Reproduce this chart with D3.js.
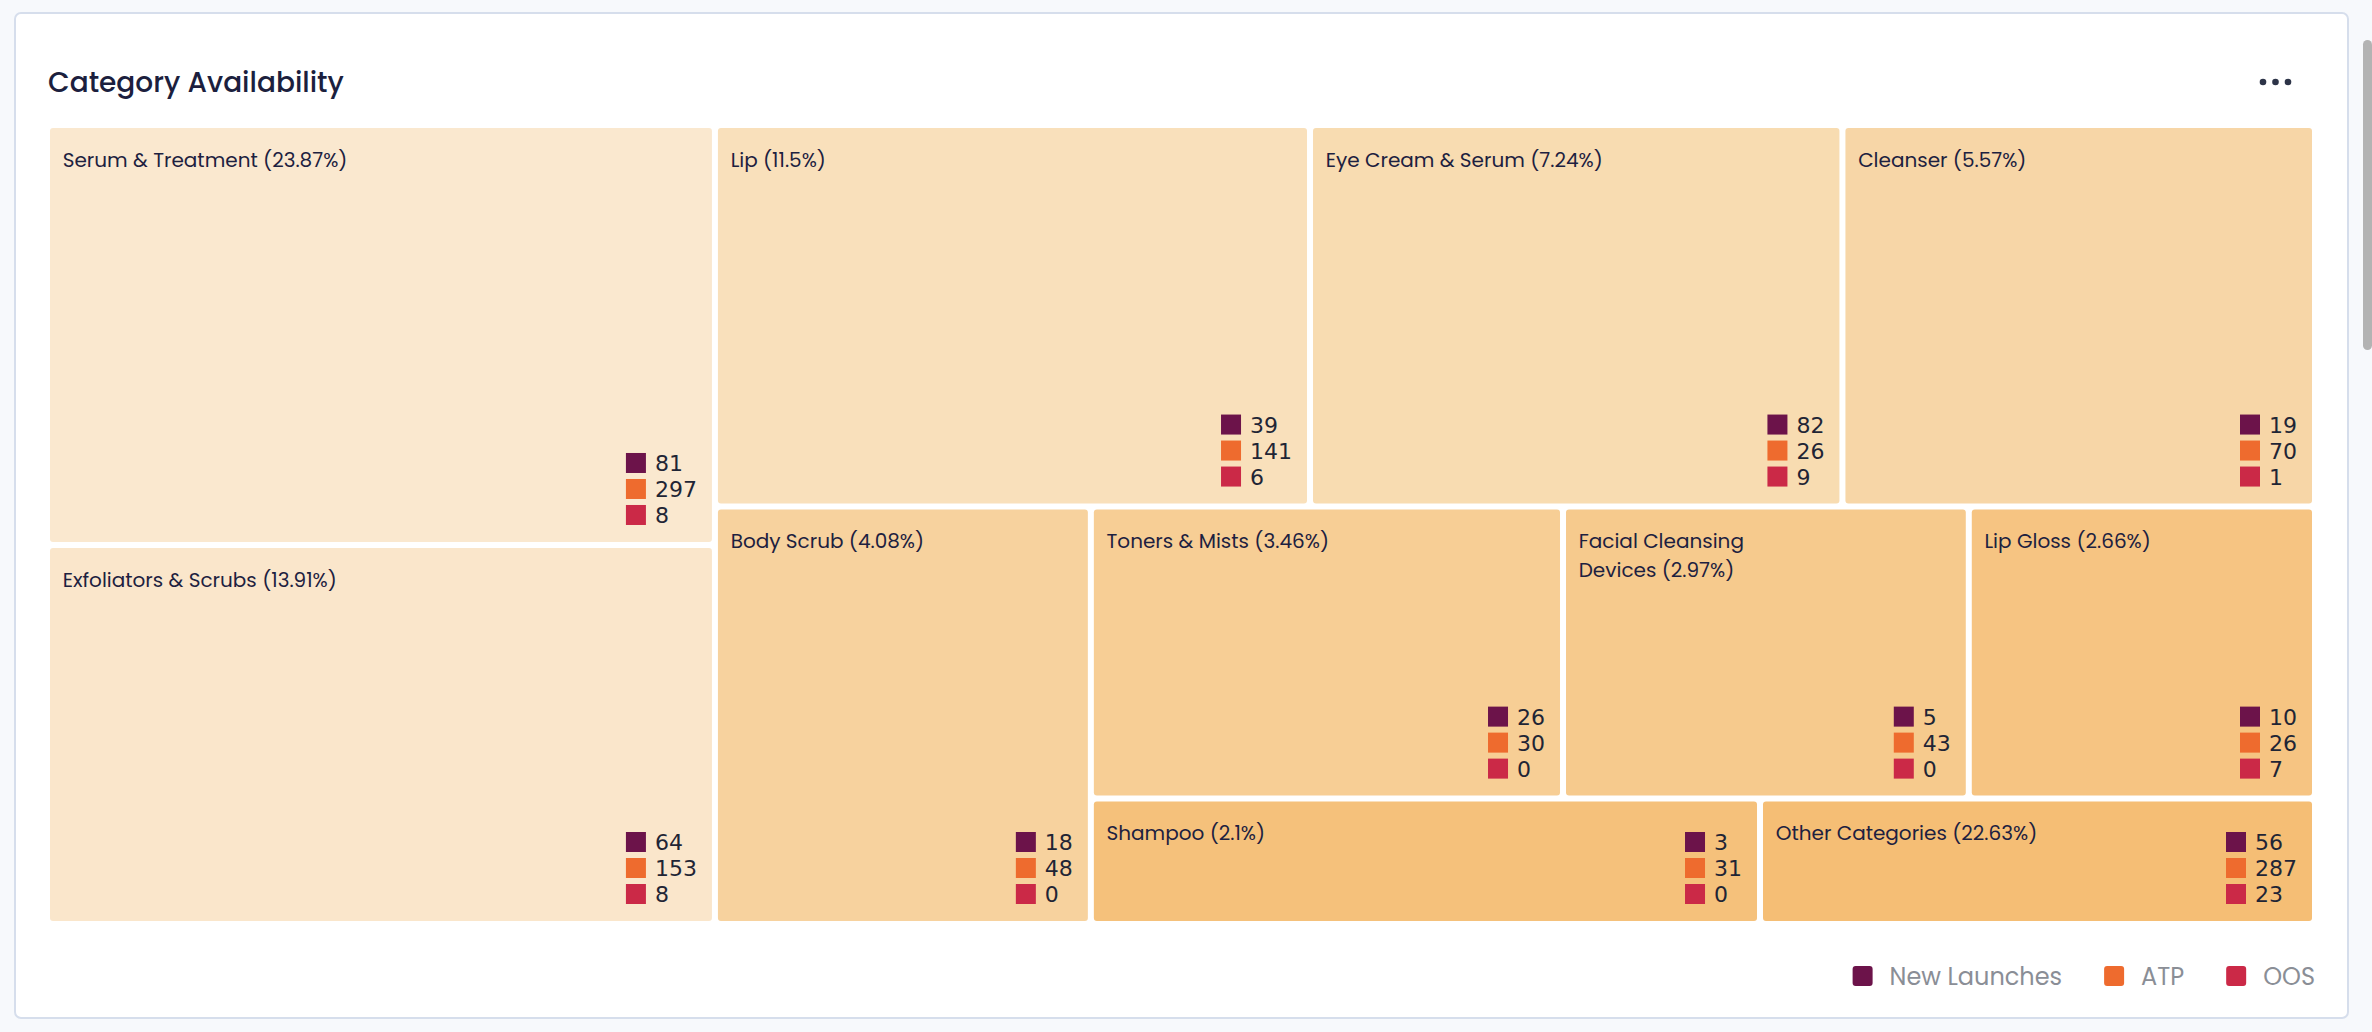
<!DOCTYPE html>
<html>
<head>
<meta charset="utf-8">
<script src="https://cdn.jsdelivr.net/npm/d3@7/dist/d3.min.js"></script>
<style>
  html, body { margin: 0; padding: 0; background: #f7f9fc; overflow: hidden; }
  svg { display: block; }
</style>
</head>
<body>
<svg id="chart" width="2372" height="1032"></svg>
<script>
// ---------- data ----------
const categories = ["Serum & Treatment", "Exfoliators & Scrubs", "Lip", "Eye Cream & Serum", "Cleanser",
  "Body Scrub", "Toners & Mists", "Facial Cleansing Devices", "Lip Gloss", "Shampoo", "Other Categories"];
const sharePct = [23.87, 13.91, 11.5, 7.24, 5.57, 4.08, 3.46, 2.97, 2.66, 2.1, 22.63];
const newLaunches = [81, 64, 39, 82, 19, 18, 26, 5, 10, 3, 56];
const atp = [297, 153, 141, 26, 70, 48, 30, 43, 26, 31, 287];
const oos = [8, 8, 6, 9, 1, 0, 0, 0, 7, 0, 23];
// relative tile areas
const tileWeight = [154.8, 139.7, 125.3, 112.1, 99.5, 86.6, 76.1, 65.4, 55.8, 46.3, 38.4];
const seriesNames = ["New Launches", "ATP", "OOS"];

// ---------- styles ----------
const seriesColors = ["#6c134a", "#ee6b2e", "#cb2947"];
const tileColors = ["#fae8cf", "#fae6cb", "#f9e0bb", "#f8dcb1", "#f7d6a7", "#f7d29e",
  "#f7ce95", "#f6ca8d", "#f6c482", "#f5c17b", "#f5be75"];
const labelFont = "Poppins, Inter, 'Open Sans', sans-serif";
const numFont = "'DejaVu Sans', sans-serif";

const svg = d3.select("#chart");

// card
svg.append("rect").attr("x", 15).attr("y", 13).attr("width", 2333).attr("height", 1005)
  .attr("rx", 6).attr("fill", "#ffffff").attr("stroke", "#d6deec").attr("stroke-width", 2);

// scrollbar thumb (browser chrome in the screenshot)
svg.append("rect").attr("x", 2363).attr("y", 40).attr("width", 9).attr("height", 310)
  .attr("rx", 4.5).attr("fill", "#b3b3b3");

// title
svg.append("text").attr("x", 48).attr("y", 92).text("Category Availability")
  .attr("font-family", labelFont).attr("font-weight", 500).attr("font-size", 28)
  .attr("fill", "#1c1f3e");

// menu dots
svg.append("g").selectAll("circle").data([0, 1, 2]).join("circle")
  .attr("cx", d => 2263 + d * 12.5).attr("cy", 82).attr("r", 3.3).attr("fill", "#2d3448");

// ---------- treemap: alternating-direction squarify ----------
function alternatingSquarify(parent, x0, y0, x1, y1) {
  const nodes = parent.children;
  const total = d3.sum(nodes, d => d.value);
  const area = (x1 - x0) * (y1 - y0);
  const a = n => n.value / total * area;
  const ratio = (w, h) => Math.max(w / h, h / w);
  let dir = 0; // 0: column stacked vertically, 1: row side by side
  let cx0 = x0, cy0 = y0;
  let group = [];
  const place = g => {
    const sum = d3.sum(g, d => d.value);
    const row = { value: sum, children: g };
    const ga = sum / total * area;
    if (dir === 0) {
      const w = ga / (y1 - cy0);
      d3.treemapSlice(row, cx0, cy0, cx0 + w, y1);
      cx0 += w;
    } else {
      const h = ga / (x1 - cx0);
      d3.treemapDice(row, cx0, cy0, x1, cy0 + h);
      cy0 += h;
    }
    dir = 1 - dir;
  };
  nodes.forEach(n => {
    if (group.length) {
      const la = a(group[group.length - 1]);
      const ga = d3.sum(group, a);
      let lR, nR;
      if (dir === 0) {
        const H = y1 - cy0, lw = ga / H, nw = (ga + a(n)) / H;
        lR = ratio(lw, la / lw); nR = ratio(nw, la / nw);
      } else {
        const W = x1 - cx0, lh = ga / W, nh = (ga + a(n)) / W;
        lR = ratio(la / lh, lh); nR = ratio(la / nh, nh);
      }
      if (nR > lR) { place(group); group = []; }
    }
    group.push(n);
  });
  if (group.length) place(group);
}

const rows = categories.map((c, i) => ({
  name: c, pct: sharePct[i], weight: tileWeight[i],
  vals: [newLaunches[i], atp[i], oos[i]], color: tileColors[i]
}));

const root = d3.hierarchy({ children: rows }).sum(d => d.weight || 0);
d3.treemap().tile(alternatingSquarify).size([2262, 793]).paddingInner(6).round(false)(root);

const tm = svg.append("g").attr("transform", "translate(50,128)");
const cell = tm.selectAll("g.cell").data(root.leaves()).join("g").attr("class", "cell");

cell.append("rect")
  .attr("x", d => d.x0).attr("y", d => d.y0)
  .attr("width", d => d.x1 - d.x0).attr("height", d => d.y1 - d.y0)
  .attr("rx", 3).attr("fill", d => d.data.color);

// labels with wrapping
cell.each(function (d) {
  const g = d3.select(this);
  const maxW = (d.x1 - d.x0) * 0.57;
  const words = `${d.data.name} (${d.data.pct}%)`.split(" ");
  const t = g.append("text").attr("font-family", labelFont).attr("font-size", 20)
    .attr("fill", "#1d2140");
  let line = [], lineNo = 0;
  let ts = t.append("tspan").attr("x", d.x0 + 12.7).attr("y", d.y0 + 38.7);
  words.forEach(w => {
    line.push(w);
    ts.text(line.join(" "));
    if (ts.node().getComputedTextLength() > maxW && line.length > 1) {
      line.pop();
      ts.text(line.join(" "));
      line = [w];
      lineNo++;
      ts = t.append("tspan").attr("x", d.x0 + 12.7).attr("y", d.y0 + 38.7 + lineNo * 29).text(w);
    }
  });

  // per-tile mini legend
  const lg = g.append("g");
  const texts = lg.selectAll("text").data(d.data.vals).join("text")
    .attr("font-family", numFont).attr("font-size", 22).attr("fill", "#1f2535")
    .text(v => v);
  const maxT = d3.max(texts.nodes(), n => n.getComputedTextLength());
  const tx = d.x1 - 15 - maxT;
  const sx = tx - 9 - 20;
  const rowY = i => d.y1 - 17 - 20 - (2 - i) * 26;
  texts.attr("x", tx).attr("y", (v, i) => rowY(i) + 18);
  lg.selectAll("rect").data(d.data.vals).join("rect")
    .attr("x", sx).attr("y", (v, i) => rowY(i)).attr("width", 20).attr("height", 20)
    .attr("fill", (v, i) => seriesColors[i]);
});

// ---------- bottom legend ----------
const leg = svg.append("g");
let right = 2315;
for (let i = seriesNames.length - 1; i >= 0; i--) {
  const t = leg.append("text").text(seriesNames[i]).attr("font-family", labelFont)
    .attr("font-size", 24).attr("fill", "#8a8e96").attr("y", 985);
  const w = t.node().getComputedTextLength();
  t.attr("x", right - w);
  leg.append("rect").attr("x", right - w - 17 - 20).attr("y", 966).attr("width", 20).attr("height", 20)
    .attr("rx", 3).attr("fill", seriesColors[i]);
  right = right - w - 17 - 20 - 42;
}
</script>
</body>
</html>
